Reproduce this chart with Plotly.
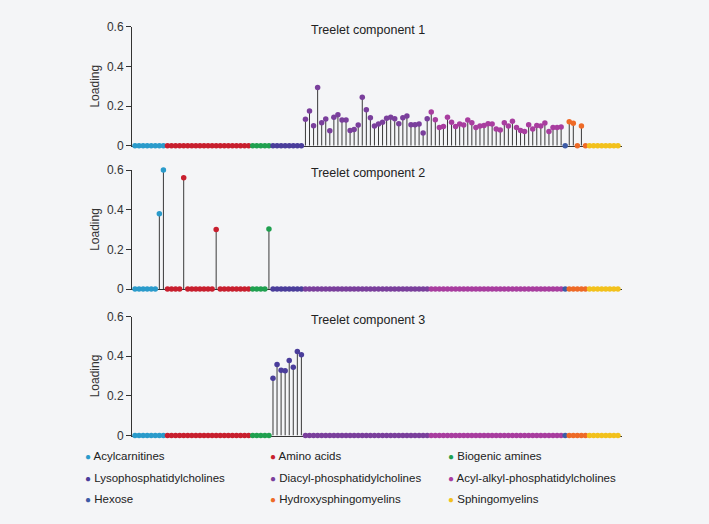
import plotly.graph_objects as go

# Metabolite classes, in plotting order
categories = ['Acylcarnitines', 'Amino acids', 'Biogenic amines',
              'Lysophosphatidylcholines', 'Diacyl-phosphatidylcholines',
              'Acyl-alkyl-phosphatidylcholines', 'Hexose',
              'Hydroxysphingomyelins', 'Sphingomyelins']
counts = [8, 21, 5, 8, 31, 33, 1, 5, 8]
colors = ['#2a9bcb', '#c81f2e', '#1fa04f', '#4a3d9b', '#7a3f9c',
          '#a83d9f', '#3d5ba6', '#ee6a27', '#f2c11c']

# Loadings per component, grouped by class
comp1 = [
    [0, 0, 0, 0, 0, 0, 0, 0],
    [0] * 21,
    [0, 0, 0, 0, 0],
    [0, 0, 0, 0, 0, 0, 0, 0],
    [0.133, 0.175, 0.100, 0.294, 0.116, 0.134, 0.076, 0.143, 0.156, 0.129,
     0.129, 0.077, 0.082, 0.104, 0.244, 0.181, 0.141, 0.099, 0.109, 0.118,
     0.138, 0.144, 0.136, 0.111, 0.141, 0.150, 0.106, 0.106, 0.109, 0.064,
     0.136],
    [0.170, 0.131, 0.092, 0.097, 0.144, 0.118, 0.097, 0.109, 0.104, 0.129,
     0.116, 0.092, 0.099, 0.102, 0.111, 0.109, 0.084, 0.079, 0.116, 0.099,
     0.123, 0.092, 0.077, 0.071, 0.106, 0.084, 0.102, 0.099, 0.114, 0.071,
     0.092, 0.092, 0.094],
    [0],
    [0.121, 0.113, 0, 0.099, 0],
    [0, 0, 0, 0, 0, 0, 0, 0],
]
comp2 = [
    [0, 0, 0, 0, 0, 0, 0.38, 0.60],
    [0, 0, 0, 0, 0.561, 0, 0, 0, 0, 0, 0, 0, 0.30, 0, 0, 0, 0, 0, 0, 0, 0],
    [0, 0, 0, 0, 0.303],
    [0, 0, 0, 0, 0, 0, 0, 0],
    [0] * 31,
    [0] * 33,
    [0],
    [0, 0, 0, 0, 0],
    [0, 0, 0, 0, 0, 0, 0, 0],
]
comp3 = [
    [0, 0, 0, 0, 0, 0, 0, 0],
    [0] * 21,
    [0, 0, 0, 0, 0],
    [0.289, 0.358, 0.329, 0.327, 0.378, 0.344, 0.424, 0.407],
    [0] * 31,
    [0] * 33,
    [0],
    [0, 0, 0, 0, 0],
    [0, 0, 0, 0, 0, 0, 0, 0],
]
components = [comp1, comp2, comp3]
titles = ['Treelet component 1', 'Treelet component 2', 'Treelet component 3']

W, H = 709, 524
FONT = 'Liberation Sans, Arial, sans-serif'
BG = '#f4f5f7'

fig = go.Figure()

for k, comp in enumerate(components):
    xa = 'x' if k == 0 else 'x%d' % (k + 1)
    ya = 'y' if k == 0 else 'y%d' % (k + 1)
    # stems
    sx, sy = [], []
    i = 0
    for vals in comp:
        for v in vals:
            if v != 0:
                sx += [i, i, None]
                sy += [0, v, None]
            i += 1
    fig.add_trace(go.Scatter(x=sx, y=sy, mode='lines', xaxis=xa, yaxis=ya,
                             line=dict(color='#3a3a3a', width=1),
                             showlegend=False, hoverinfo='skip'))
    # dots per class
    start = 0
    for name, vals, col in zip(categories, comp, colors):
        fig.add_trace(go.Scatter(
            x=list(range(start, start + len(vals))), y=vals,
            mode='markers', name=name, xaxis=xa, yaxis=ya,
            marker=dict(color=col, size=5.5, line=dict(width=0)),
            cliponaxis=False, showlegend=False))
        start += len(vals)

# panel placement (pixels from top)
tops = [26.7, 170, 316.5]
ph = 119
x0, x1 = 132, 622
layout = {}
for k in range(3):
    sfx = '' if k == 0 else str(k + 1)
    dom = [1 - (tops[k] + ph) / H, 1 - tops[k] / H]
    layout['xaxis' + sfx] = dict(
        domain=[x0 / W, x1 / W], range=[-0.74, 120], anchor='y' + sfx,
        showline=True, linecolor='#333', linewidth=1, showticklabels=False,
        ticks='', showgrid=False, zeroline=False, layer='below traces')
    layout['yaxis' + sfx] = dict(
        domain=dom, range=[0, 0.6], anchor='x' + sfx,
        tickvals=[0, 0.2, 0.4, 0.6], ticktext=['0', '0.2', '0.4', '0.6'],
        ticks='outside', ticklen=5, tickcolor='#333', tickwidth=1,
        showline=True, linecolor='#333', linewidth=1, showgrid=False,
        zeroline=False, tickfont=dict(size=12, color='#333'),
        title=dict(text='Loading', standoff=4, font=dict(size=12, color='#333')))
fig.update_layout(**layout)

anns = []
for k in range(3):
    anns.append(dict(text=titles[k], xref='paper', yref='paper',
                     x=368 / W, y=1 - (tops[k] + 3) / H, xanchor='center',
                     yanchor='middle', showarrow=False,
                     font=dict(size=12.5, color='#222')))

# legend, three columns
col_x = [83, 268, 446]
row_y = [456, 478, 499]
for j, (name, col) in enumerate(zip(categories, colors)):
    r, c = divmod(j, 3)
    anns.append(dict(
        text='<span style="color:%s;font-size:10px">●</span> %s' % (col, name),
        xref='paper', yref='paper', x=col_x[c] / W, y=1 - row_y[r] / H,
        xanchor='left', yanchor='middle', showarrow=False,
        font=dict(size=11.5, color='#222')))

fig.update_layout(
    annotations=anns,
    width=W, height=H,
    margin=dict(l=0, r=0, t=0, b=0),
    paper_bgcolor=BG, plot_bgcolor=BG,
    font=dict(family=FONT, color='#222'),
    showlegend=False,
    template='none',
)

fig.write_html('out.html', config={'displayModeBar': False},
               post_script='document.body.style.margin="0";'
                           'document.body.style.background="%s";' % BG)
